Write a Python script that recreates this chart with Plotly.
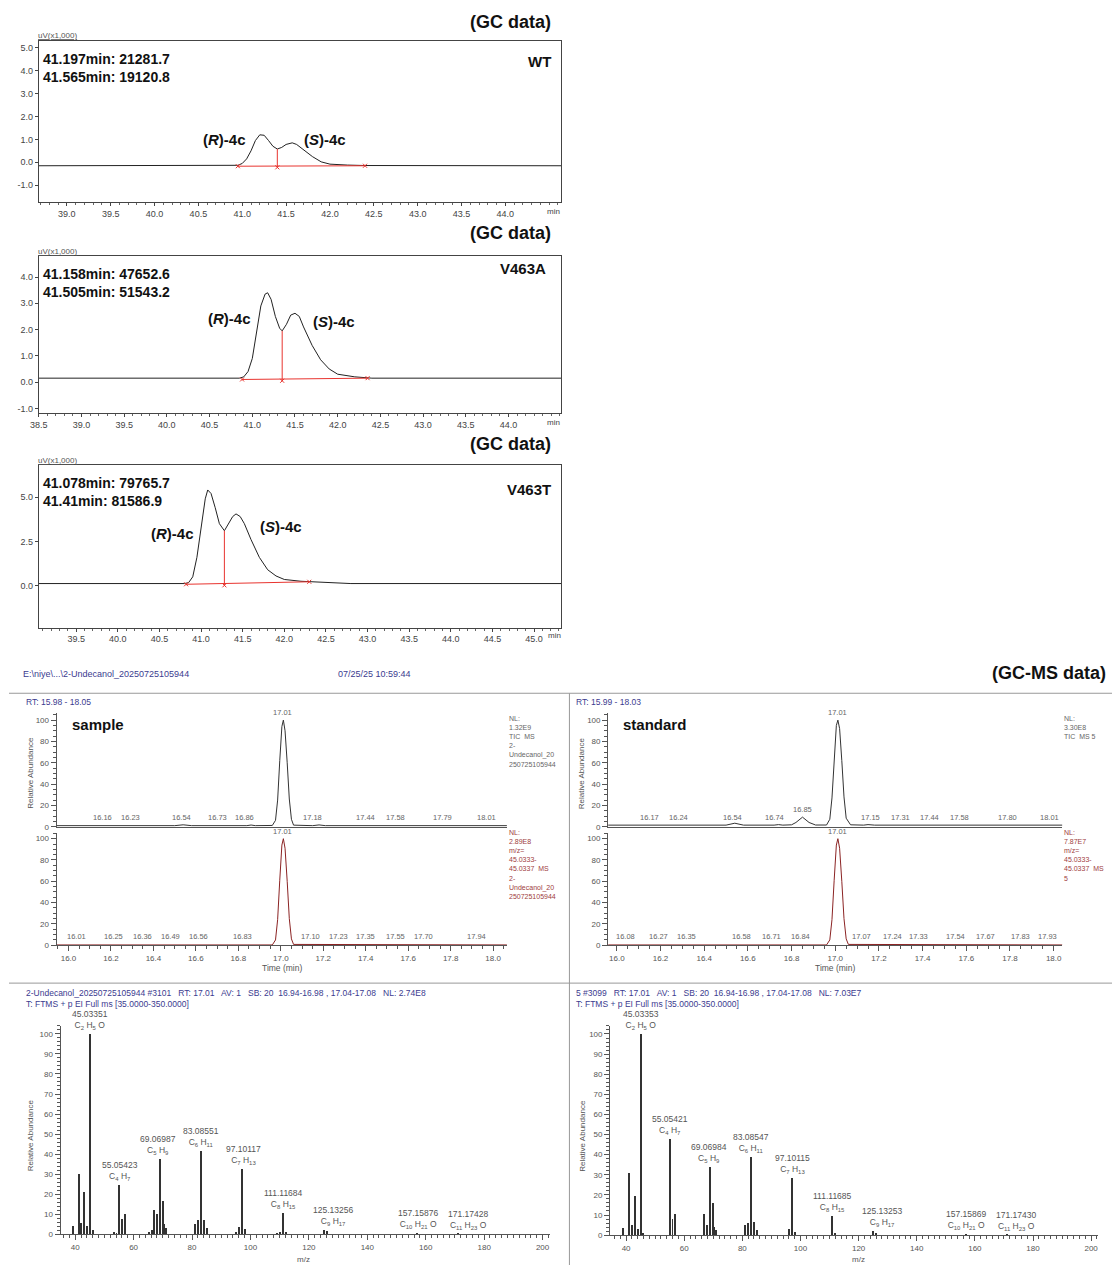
import plotly.graph_objects as go

W, H = 1112, 1270
def px(x): return x / W
def py(y): return 1 - y / H

FONT = "Liberation Sans, Arial, sans-serif"

# ---------------- GC data (time in min, signal in uV x1000) ----------------
wt_t = [38.68, 40.90, 40.95, 41.00, 41.05, 41.10, 41.15, 41.20, 41.25, 41.30, 41.35, 41.40, 41.45,
        41.50, 41.57, 41.62, 41.70, 41.80, 41.90, 42.00, 42.20, 42.40, 44.64]
wt_s = [-0.15, -0.15, -0.13, -0.05, 0.15, 0.50, 0.95, 1.20, 1.18, 0.95, 0.70, 0.58, 0.65,
        0.78, 0.85, 0.78, 0.55, 0.25, 0.02, -0.08, -0.12, -0.14, -0.15]
wt_int_t = [40.95, 42.40]
wt_int_s = [-0.17, -0.15]
wt_split_t = [41.40, 41.40]
wt_split_s = [-0.22, 0.58]

a_t = [38.50, 40.85, 40.90, 40.95, 41.00, 41.05, 41.10, 41.15, 41.18, 41.22, 41.27, 41.32, 41.35,
       41.40, 41.45, 41.50, 41.55, 41.60, 41.70, 41.80, 41.90, 42.00, 42.20, 42.40, 44.62]
a_s = [0.15, 0.15, 0.20, 0.40, 0.90, 1.90, 2.90, 3.35, 3.40, 3.15, 2.50, 2.05, 1.95,
       2.20, 2.55, 2.62, 2.50, 2.10, 1.40, 0.85, 0.50, 0.30, 0.20, 0.15, 0.15]
a_int_t = [40.88, 42.35]
a_int_s = [0.10, 0.15]
a_split_t = [41.35, 41.35]
a_split_s = [0.05, 1.95]

t_t = [39.05, 40.80, 40.85, 40.90, 40.95, 41.00, 41.05, 41.08, 41.12, 41.17, 41.22, 41.28, 41.33,
       41.38, 41.42, 41.47, 41.52, 41.60, 41.70, 41.80, 41.90, 42.00, 42.20, 42.50, 42.80, 45.33]
t_s = [0.12, 0.12, 0.17, 0.50, 1.60, 3.40, 4.90, 5.40, 5.20, 4.40, 3.50, 3.10, 3.50,
       3.90, 4.05, 3.90, 3.50, 2.60, 1.60, 0.90, 0.55, 0.35, 0.25, 0.17, 0.12, 0.12]
t_int_t = [40.82, 42.30]
t_int_s = [0.08, 0.22]
t_split_t = [41.28, 41.28]
t_split_s = [0.02, 3.10]

gc_names = ["WT", "V463A", "V463T"]
gc_peak_text = [["41.197min: 21281.7", "41.565min: 19120.8"],
                ["41.158min: 47652.6", "41.505min: 51543.2"],
                ["41.078min: 79765.7", "41.41min: 81586.9"]]

# ---------------- GC-MS chromatograms (RT min, relative abundance %) ----------------
lt_t = [15.944, 16.12, 16.16, 16.20, 16.23, 16.26, 16.50, 16.54, 16.58, 16.84, 16.86, 16.88,
        16.96, 16.975, 16.985, 16.995, 17.005, 17.012, 17.02, 17.03, 17.04, 17.05, 17.06,
        17.15, 17.18, 17.21, 17.55, 17.58, 17.61, 18.065]
lt_i = [1.0, 1.0, 1.6, 1.0, 1.3, 1.0, 1.0, 1.8, 1.0, 1.0, 1.6, 1.0,
        1.2, 6, 25, 62, 94, 100, 90, 60, 26, 7, 1.5,
        1.0, 1.7, 1.0, 1.0, 1.6, 1.0, 1.0]
lb_t = [15.944, 16.96, 16.975, 16.985, 16.995, 17.005, 17.012, 17.02, 17.03, 17.04, 17.05,
        17.06, 18.065]
lb_i = [0.3, 0.3, 5, 24, 61, 94, 100, 91, 60, 25, 6, 0.8, 0.3]
rt_t = [15.96, 16.14, 16.17, 16.20, 16.50, 16.54, 16.58, 16.72, 16.74, 16.76, 16.80, 16.82,
        16.85, 16.88, 16.91, 16.96, 16.975, 16.985, 16.995, 17.005, 17.012, 17.02, 17.03,
        17.04, 17.05, 17.07, 17.13, 17.15, 17.18, 18.04]
rt_i = [1.5, 1.5, 2.2, 1.5, 1.5, 3.3, 1.5, 1.5, 2.0, 1.5, 1.8, 4.0,
        9.0, 4.0, 1.6, 1.6, 7, 27, 64, 95, 100, 92, 62,
        28, 8, 1.8, 1.5, 2.0, 1.5, 1.5]
rb_t = [15.96, 16.96, 16.975, 16.985, 16.995, 17.005, 17.012, 17.02, 17.03, 17.04, 17.05,
        17.06, 18.04]
rb_i = [0.3, 0.3, 5, 24, 61, 94, 100, 91, 60, 25, 6, 0.8, 0.3]

# peak labels: value shown, and RT where the label text is centred
lt_lab = [16.16, 16.23, 16.54, 16.73, 16.86, 17.18, 17.44, 17.58, 17.79, 18.01]
lt_lab_pos = [16.16, 16.29, 16.53, 16.70, 16.83, 17.15, 17.40, 17.54, 17.76, 17.97]
lb_lab = [16.01, 16.25, 16.36, 16.49, 16.56, 16.83, 17.10, 17.23, 17.35, 17.55, 17.70, 17.94]
lb_lab_pos = [16.04, 16.21, 16.35, 16.48, 16.61, 16.82, 17.14, 17.27, 17.40, 17.54, 17.67, 17.92]
rt_lab = [16.17, 16.24, 16.54, 16.74, 17.15, 17.31, 17.44, 17.58, 17.80, 18.01]
rt_lab_pos = [16.15, 16.28, 16.53, 16.72, 17.16, 17.30, 17.43, 17.57, 17.79, 17.98]
rb_lab = [16.08, 16.27, 16.35, 16.58, 16.71, 16.84, 17.07, 17.24, 17.33, 17.54, 17.67, 17.83, 17.93]
rb_lab_pos = [16.04, 16.19, 16.32, 16.57, 16.71, 16.84, 17.12, 17.26, 17.38, 17.55, 17.69, 17.85, 17.97]
apex_rt = 17.01
rt_small_peak = (16.85, 9.0)

# ---------------- Mass spectra (m/z, relative abundance %) ----------------
ls_mz = [39, 41, 42, 43, 44, 45, 46, 53, 54, 55, 56, 57, 65, 66, 67, 68, 69, 70, 70.3, 71,
         81, 82, 83, 84, 85, 95, 96, 97, 98, 109, 110, 111, 112, 125, 126, 157, 171]
ls_ab = [4, 30, 5.5, 21, 4, 100, 2, 1, 0.8, 24.5, 7.5, 10, 1, 2, 12, 10, 37.5, 16.5, 5, 3,
         5, 7, 41.5, 7, 3, 1, 3.5, 32.5, 2.5, 0.8, 1, 10.5, 1, 2, 1.5, 0.5, 0.3]
rs_mz = [39, 41, 42, 43, 44, 45, 46, 55, 56, 57, 67, 68, 69, 70, 70.3, 71,
         81, 82, 83, 84, 85, 96, 97, 98, 111, 112, 125, 126, 157, 171]
rs_ab = [3.5, 31, 5, 19.5, 3, 100, 1, 48, 8, 10.5, 10.5, 5, 34, 16, 4, 2.5,
         5, 6, 39, 6.5, 2.5, 3, 28.5, 1.5, 9.5, 1, 2, 1, 0.5, 0.3]

ls_lab_pos = [45.2, 55.3, 68.5, 83.2, 97.5, 111.2, 128.4, 157.2, 174.4]
ls_lab_ab = [100, 24.5, 37.5, 41.5, 32.5, 10.5, 2, 0.5, 0.3]
ls_lab_mass = ["45.03351", "55.05423", "69.06987", "83.08551", "97.10117", "111.11684",
               "125.13256", "157.15876", "171.17428"]
rs_lab_pos = [45.0, 55.0, 68.5, 83.0, 97.2, 111.0, 128.0, 156.9, 174.3]
rs_lab_ab = [100, 48, 34, 39, 28.5, 9.5, 2, 0.5, 0.3]
rs_lab_mass = ["45.03353", "55.05421", "69.06984", "83.08547", "97.10115", "111.11685",
               "125.13253", "157.15869", "171.17430"]
lab_formula = ["C<sub>2</sub> H<sub>5</sub> O", "C<sub>4</sub> H<sub>7</sub>", "C<sub>5</sub> H<sub>9</sub>",
               "C<sub>6</sub> H<sub>11</sub>", "C<sub>7</sub> H<sub>13</sub>", "C<sub>8</sub> H<sub>15</sub>",
               "C<sub>9</sub> H<sub>17</sub>", "C<sub>10</sub> H<sub>21</sub> O", "C<sub>11</sub> H<sub>23</sub> O"]

fig = go.Figure()

def axn(n, kind):
    return kind if n == 1 else f"{kind}{n}"

def add_line(n, x, y, color, width=1.0):
    fig.add_trace(go.Scatter(x=x, y=y, mode="lines", line=dict(color=color, width=width),
                             xaxis=axn(n, "x"), yaxis=axn(n, "y"), showlegend=False,
                             hoverinfo="skip"))

RED = "#e8342f"
gc_sets = [(wt_t, wt_s, wt_int_t, wt_int_s, wt_split_t, wt_split_s),
           (a_t, a_s, a_int_t, a_int_s, a_split_t, a_split_s),
           (t_t, t_s, t_int_t, t_int_s, t_split_t, t_split_s)]
for i, (tx, sy, it, isy, st, ss) in enumerate(gc_sets):
    n = i + 1
    add_line(n, tx, sy, "#222222", 1.0)
    add_line(n, it, isy, RED, 1.0)
    add_line(n, st, ss, RED, 1.0)
    fig.add_trace(go.Scatter(x=it + [st[0]], y=isy + [ss[0]], mode="markers",
                             marker=dict(color=RED, size=4, symbol="x-thin", line=dict(color=RED, width=1)),
                             xaxis=axn(n, "x"), yaxis=axn(n, "y"), showlegend=False, hoverinfo="skip"))

add_line(4, lt_t, lt_i, "#333333", 1.0)
add_line(5, lb_t, lb_i, "#8b2323", 1.0)
add_line(6, rt_t, rt_i, "#333333", 1.0)
add_line(7, rb_t, rb_i, "#8b2323", 1.0)

for n, mz, ab in [(8, ls_mz, ls_ab), (9, rs_mz, rs_ab)]:
    fig.add_trace(go.Bar(x=mz, y=ab, width=0.34, marker=dict(color="#333333", line=dict(width=0)),
                         xaxis=axn(n, "x"), yaxis=axn(n, "y"), showlegend=False, hoverinfo="skip"))

layout = dict(width=W, height=H, margin=dict(l=0, r=0, t=0, b=0),
              paper_bgcolor="white", plot_bgcolor="white",
              font=dict(family=FONT, color="#333"), bargap=0, showlegend=False)

def gc_axes(n, xd, yd, xr, yr, xt, yt, ytext=None):
    tf = dict(size=9, color="#444", family=FONT)
    layout[axn(n, "xaxis")] = dict(domain=[px(xd[0]), px(xd[1])], range=xr, anchor=axn(n, "y"),
                                  showline=True, mirror=True, linecolor="#444", linewidth=1,
                                  ticks="outside", ticklen=3, tickcolor="#444", tickvals=xt,
                                  ticktext=[f"{v:.1f}" for v in xt], tickfont=tf,
                                  minor=dict(ticks="outside", ticklen=2, dtick=0.1, tick0=38.0, tickcolor="#666"),
                                  showgrid=False, zeroline=False, fixedrange=True)
    layout[axn(n, "yaxis")] = dict(domain=[py(yd[1]), py(yd[0])], range=yr, anchor=axn(n, "x"),
                                  showline=True, mirror=True, linecolor="#444", linewidth=1,
                                  ticks="outside", ticklen=3, tickcolor="#444", tickvals=yt,
                                  ticktext=ytext if ytext else [f"{v:.1f}" for v in yt], tickfont=tf,
                                  showgrid=False, zeroline=False, fixedrange=True)

gc_axes(1, (30, 557), (41, 203), [38.68, 44.64], [-1.74, 5.3],
        [39.0, 39.5, 40.0, 40.5, 41.0, 41.5, 42.0, 42.5, 43.0, 43.5, 44.0], [-1, 0, 1, 2, 3, 4, 5])
gc_axes(2, (30, 557), (257, 415), [38.5, 44.62], [-1.19, 4.8],
        [38.5, 39.0, 39.5, 40.0, 40.5, 41.0, 41.5, 42.0, 42.5, 43.0, 43.5, 44.0], [-1, 0, 1, 2, 3, 4])
gc_axes(3, (30, 557), (467, 630), [39.05, 45.33], [-2.36, 6.8],
        [39.5, 40.0, 40.5, 41.0, 41.5, 42.0, 42.5, 43.0, 43.5, 44.0, 44.5, 45.0], [0, 2.5, 5.0])

def ms_axes(n, xd, yd, xr, yr, x_labels, xdtick, xminor, ydtick, yminor, xfmt):
    tf = dict(size=8, color="#555", family=FONT)
    layout[axn(n, "xaxis")] = dict(domain=[px(xd[0]), px(xd[1])], range=xr, anchor=axn(n, "y"),
                                  showline=True, linecolor="#555", linewidth=1,
                                  ticks="outside" if x_labels else "", ticklen=5, tickcolor="#555",
                                  dtick=xdtick, tick0=0, tickformat=xfmt, showticklabels=x_labels,
                                  tickfont=tf,
                                  minor=dict(ticks="outside", ticklen=3, dtick=xminor, tick0=0,
                                             tickcolor="#555") if x_labels else None,
                                  showgrid=False, zeroline=False, fixedrange=True)
    layout[axn(n, "yaxis")] = dict(domain=[py(yd[1]), py(yd[0])], range=yr, anchor=axn(n, "x"),
                                  showline=True, linecolor="#555", linewidth=1,
                                  ticks="outside", ticklen=5, tickcolor="#555",
                                  tickvals=list(range(0, 101, ydtick)), tickfont=tf,
                                  minor=dict(ticks="outside", ticklen=3, dtick=yminor, tick0=0, tickcolor="#555"),
                                  showgrid=False, zeroline=False, fixedrange=True)

ms_axes(4, (48, 502), (716, 830), [15.944, 18.065], [0, 106.5], False, 0.2, 0.05, 20, 5, ".1f")
ms_axes(5, (48, 502), (836, 949), [15.944, 18.065], [0, 105.6], True, 0.2, 0.05, 20, 5, ".1f")
ms_axes(6, (604, 1062), (716, 830), [15.96, 18.04], [0, 106.5], False, 0.2, 0.05, 20, 5, ".1f")
ms_axes(7, (604, 1062), (836, 949), [15.96, 18.04], [0, 105.6], True, 0.2, 0.05, 20, 5, ".1f")
ms_axes(8, (52, 545), (1030, 1239), [35, 202.4], [0, 104], True, 20, 2, 10, 2, "d")
ms_axes(9, (606, 1098), (1030, 1240), [34.5, 202.4], [0, 104], True, 20, 2, 10, 2, "d")

ann = []
def pa(x, y, text, size=9, color="#333", xanchor="left", yanchor="middle", bold=False, angle=0, align="left"):
    ann.append(dict(x=px(x), y=py(y), xref="paper", yref="paper", text=f"<b>{text}</b>" if bold else text,
                    showarrow=False, xanchor=xanchor, yanchor=yanchor, textangle=angle, align=align,
                    font=dict(size=size, color=color, family=FONT)))

gc_title_y = [22, 234, 446]
gc_top = [41, 257, 467]
gc_name_xy = [(548, 62), (543, 270), (548, 491)]
gc_R = [(217, 140), (222, 320), (165, 536)]
gc_S = [(319, 140), (328, 323), (274, 529)]
for i in range(3):
    pa(548, gc_title_y[i], "(GC data)", size=18, color="#111", xanchor="right", bold=True)
    pa(27, gc_top[i] - 5, "<u>uV(x1,000)</u>", size=8, color="#555")
    pa(32, gc_top[i] + 18, gc_peak_text[i][0], size=14, color="#111", bold=True)
    pa(32, gc_top[i] + 36, gc_peak_text[i][1], size=14, color="#111", bold=True)
    pa(gc_name_xy[i][0], gc_name_xy[i][1], gc_names[i], size=15, color="#111", xanchor="right", bold=True)
    pa(gc_R[i][0], gc_R[i][1], "(<i>R</i>)-4c", size=15, color="#111", xanchor="center", bold=True)
    pa(gc_S[i][0], gc_S[i][1], "(<i>S</i>)-4c", size=15, color="#111", xanchor="center", bold=True)
pa(549, 212, "min", size=8, color="#444", xanchor="center")
pa(549, 424, "min", size=8, color="#444", xanchor="center")
pa(550, 638, "min", size=8, color="#444", xanchor="center")

BLUE = "#3b3b8f"
pa(1108, 676, "(GC-MS data)", size=18, color="#111", xanchor="right", bold=True)
pa(12, 677, "E:\\niye\\...\\2-Undecanol_20250725105944", size=9, color=BLUE)
pa(330, 677, "07/25/25 10:59:44", size=9, color=BLUE)
pa(15, 705, "RT: 15.98 - 18.05", size=8.5, color=BLUE)
pa(570, 705, "RT: 15.99 - 18.03", size=8.5, color=BLUE)
pa(62, 727, "sample", size=15, color="#111", bold=True)
pa(617, 727, "standard", size=15, color="#111", bold=True)
pa(502, 716, "NL:<br>1.32E9<br>TIC  MS<br>2-<br>Undecanol_20<br>250725105944", size=7, color="#666", yanchor="top")
pa(502, 830, "NL:<br>2.89E8<br>m/z=<br>45.0333-<br>45.0337  MS<br>2-<br>Undecanol_20<br>250725105944", size=7, color="#a04040", yanchor="top")
pa(1062, 716, "NL:<br>3.30E8<br>TIC  MS 5", size=7, color="#666", yanchor="top")
pa(1062, 830, "NL:<br>7.87E7<br>m/z=<br>45.0333-<br>45.0337  MS<br>5", size=7, color="#a04040", yanchor="top")
pa(275, 972, "Time (min)", size=8.5, color="#555", xanchor="center")
pa(833, 972, "Time (min)", size=8.5, color="#555", xanchor="center")
pa(22, 776, "Relative Abundance", size=8, color="#555", xanchor="center", angle=-90)
pa(578, 776, "Relative Abundance", size=8, color="#555", xanchor="center", angle=-90)
pa(22, 1140, "Relative Abundance", size=8, color="#555", xanchor="center", angle=-90)
pa(578, 1140, "Relative Abundance", size=8, color="#555", xanchor="center", angle=-90)
pa(297, 1264, "m/z", size=8, color="#555", xanchor="center")
pa(856, 1264, "m/z", size=8, color="#555", xanchor="center")
pa(15, 997, "2-Undecanol_20250725105944 #3101   RT: 17.01   AV: 1   SB: 20  16.94-16.98 , 17.04-17.08   NL: 2.74E8", size=8.5, color=BLUE)
pa(15, 1008, "T: FTMS + p EI Full ms [35.0000-350.0000]", size=8.5, color=BLUE)
pa(570, 997, "5 #3099   RT: 17.01   AV: 1   SB: 20  16.94-16.98 , 17.04-17.08   NL: 7.03E7", size=8.5, color=BLUE)
pa(570, 1008, "T: FTMS + p EI Full ms [35.0000-350.0000]", size=8.5, color=BLUE)

def da(n, x, y, text, size=7.5, color="#666", yshift=1):
    ann.append(dict(x=x, y=y, xref=axn(n, "x"), yref=axn(n, "y"), text=text, showarrow=False,
                    xanchor="center", yanchor="bottom", yshift=yshift,
                    font=dict(size=size, color=color, family=FONT)))

for n, labs, pos in [(4, lt_lab, lt_lab_pos), (5, lb_lab, lb_lab_pos), (6, rt_lab, rt_lab_pos), (7, rb_lab, rb_lab_pos)]:
    for v, p in zip(labs, pos):
        da(n, p, 1.5, f"{v:.2f}")
    da(n, apex_rt, 100, f"{apex_rt:.2f}")
da(6, rt_small_peak[0], rt_small_peak[1], f"{rt_small_peak[0]:.2f}")

for n, poss, abs_, masses in [(8, ls_lab_pos, ls_lab_ab, ls_lab_mass), (9, rs_lab_pos, rs_lab_ab, rs_lab_mass)]:
    for m, a, ms, f in zip(poss, abs_, masses, lab_formula):
        ann.append(dict(x=m, y=a, xref=axn(n, "x"), yref=axn(n, "y"),
                        text=f"{ms}<br>{f}", showarrow=False, xanchor="center", yanchor="bottom",
                        yshift=1, align="center", font=dict(size=8.5, color="#555", family=FONT)))

layout["annotations"] = ann
layout["shapes"] = [
    dict(type="line", xref="paper", yref="paper", x0=0, x1=1, y0=py(696), y1=py(696), line=dict(color="#999", width=1)),
    dict(type="line", xref="paper", yref="paper", x0=px(565), x1=px(565), y0=py(696), y1=0, line=dict(color="#999", width=1)),
    dict(type="line", xref="paper", yref="paper", x0=0, x1=1, y0=py(987), y1=py(987), line=dict(color="#999", width=1)),
]
fig.update_layout(**layout)
fig.write_html("out.html", config={"displayModeBar": False},
               post_script="document.body.style.margin='0';document.documentElement.style.overflow='hidden';document.body.style.overflow='hidden';")
